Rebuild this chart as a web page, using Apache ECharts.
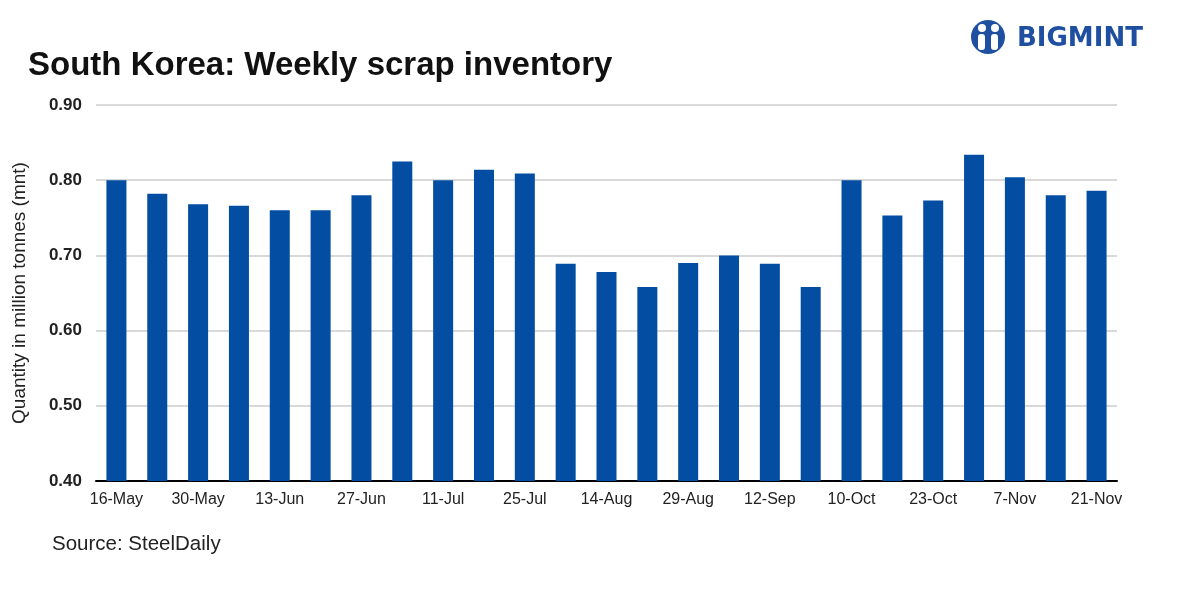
<!DOCTYPE html>
<html>
<head>
<meta charset="utf-8">
<script src="https://cdn.jsdelivr.net/npm/echarts@6/dist/echarts.min.js"></script>
<style>html,body{margin:0;padding:0;background:#fff;}#c{width:1181px;height:590px;}</style>
</head>
<body>
<div id="c"></div>
<script>
const categories = ['16-May','23-May','30-May','6-Jun','13-Jun','20-Jun','27-Jun','4-Jul','11-Jul','18-Jul','25-Jul','1-Aug','14-Aug','22-Aug','29-Aug','5-Sep','12-Sep','26-Sep','10-Oct','17-Oct','23-Oct','31-Oct','7-Nov','14-Nov','21-Nov'];
const inventory = [0.800,0.782,0.768,0.766,0.760,0.760,0.780,0.825,0.800,0.814,0.809,0.689,0.678,0.658,0.690,0.700,0.689,0.658,0.800,0.753,0.773,0.834,0.804,0.780,0.786];
const yTicks = [0.4,0.5,0.6,0.7,0.8,0.9];

const chart = echarts.init(document.getElementById('c'), null, {renderer:'canvas'});
const blue = '#034EA2';
const font = 'Liberation Sans, Arial, sans-serif';
chart.setOption({
  animation:false,
  title:{text:'South Korea: Weekly scrap inventory', left:23, top:44,
    textStyle:{fontFamily:font, fontWeight:'bold', fontSize:33, color:'#111'}},
  grid:{left:96, right:64, top:105, bottom:109},
  xAxis:{type:'category', data:categories,
    axisLine:{lineStyle:{color:'#000', width:2}},
    axisTick:{show:false},
    axisLabel:{interval:1, color:'#222', fontSize:16, fontFamily:font, margin:11}},
  yAxis:{type:'value', min:yTicks[0], max:yTicks[yTicks.length-1], interval:0.1,
    name:'Quantity in million tonnes (mnt)', nameLocation:'middle', nameGap:67, nameRotate:90,
    nameTextStyle:{color:'#222', fontSize:19, fontFamily:font},
    axisLine:{show:false}, axisTick:{show:false},
    axisLabel:{formatter:v=>v.toFixed(2), fontWeight:'bold', color:'#222', fontSize:17, fontFamily:font, margin:14},
    splitLine:{lineStyle:{color:'#d9d9d9', width:2}}},
  series:[{type:'bar', data:inventory, barWidth:'49%', itemStyle:{color:blue}}],
  graphic:[
    {type:'text', left:52, top:534, style:{text:'Source: SteelDaily', fontSize:20.5, fill:'#222', fontFamily:font}},
    {type:'circle', shape:{cx:988, cy:37, r:17}, style:{fill:'#1f4fa0'}},
    {type:'circle', shape:{cx:982, cy:28, r:4}, style:{fill:'#fff'}},
    {type:'circle', shape:{cx:995, cy:28, r:4}, style:{fill:'#fff'}},
    {type:'rect', shape:{x:978, y:34, width:7, height:16, r:3}, style:{fill:'#fff'}},
    {type:'rect', shape:{x:991, y:34, width:7, height:16, r:3}, style:{fill:'#fff'}},
    {type:'text', left:1017, top:26, style:{text:'BIGMINT', fontSize:26, fontWeight:'bold', fill:'#1f4fa0', fontFamily:'DejaVu Sans, sans-serif', letterSpacing:6}}
  ]
});
</script>
</body>
</html>
